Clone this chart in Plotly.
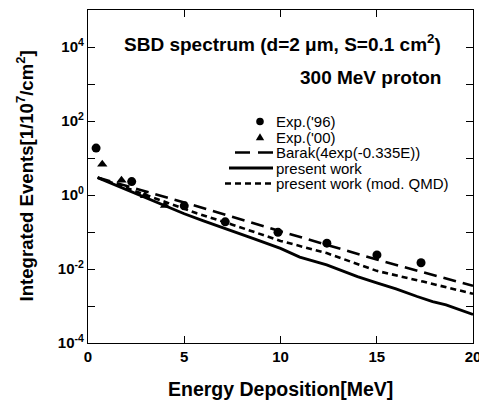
import plotly.graph_objects as go

# ---------------- data ----------------
exp96_E = [0.42, 2.27, 5.0, 7.13, 9.87, 12.41, 15.01, 17.3]
exp96_N = [18.5, 2.3, 0.51, 0.188, 0.098, 0.050, 0.024, 0.0148]

exp00_E = [0.74, 1.74, 2.96, 4.0]
exp00_N = [6.8, 2.5, 0.96, 0.52]

barak_E = [0.5, 5.0, 10.0, 15.0, 20.0]
barak_N = [2.95, 0.63, 0.105, 0.018, 0.0035]

present_E = [0.5, 2.0, 3.0, 4.0, 5.0, 6.0, 7.4, 8.6, 10.0, 11.0, 12.4, 14.0,
             15.0, 16.0, 17.1, 17.9, 18.6, 19.5, 20.0]
present_N = [2.95, 1.38, 0.83, 0.51, 0.31, 0.20, 0.112, 0.066, 0.036, 0.021,
             0.0129, 0.0062, 0.0042, 0.0029, 0.0018, 0.00132, 0.00107,
             0.00072, 0.00059]

qmd_E = [0.5, 2.0, 3.5, 5.65, 7.5, 10.0, 12.4, 15.0, 17.4, 20.0]
qmd_N = [2.95, 1.55, 0.79, 0.32, 0.158, 0.0575, 0.0269, 0.0089, 0.00457, 0.00214]

x_tickvals = [0, 5, 10, 15, 20]
x_ticktext = ["0", "5", "10", "15", "20"]
y_exponents = [-4, -3, -2, -1, 0, 1, 2, 3, 4, 5]
y_labelled = [-4, -2, 0, 2, 4]

legend_labels = ["Exp.('96)", "Exp.('00)", "Barak(4exp(-0.335E))",
                 "present work", "present work (mod. QMD)"]

# ---------------- figure ----------------
FONT = "Liberation Sans, Arial, Helvetica, sans-serif"
W, H = 479, 401
ML, MR, MT, MB = 88, 6, 10, 58
PW, PH = W - ML - MR, H - MT - MB


def px(xp):
    return (xp - ML) / PW


def py(yp):
    return (H - MB - yp) / PH


fig = go.Figure()

fig.add_trace(go.Scatter(x=barak_E, y=barak_N, mode="lines",
                         line=dict(color="black", width=2.6, dash="13px,7px"),
                         showlegend=False))
fig.add_trace(go.Scatter(x=qmd_E, y=qmd_N, mode="lines",
                         line=dict(color="black", width=2.6, dash="6px,4px"),
                         showlegend=False))
fig.add_trace(go.Scatter(x=present_E, y=present_N, mode="lines",
                         line=dict(color="black", width=2.8),
                         showlegend=False))
fig.add_trace(go.Scatter(x=exp96_E, y=exp96_N, mode="markers",
                         marker=dict(symbol="circle", size=9, color="black"),
                         showlegend=False))
fig.add_trace(go.Scatter(x=exp00_E, y=exp00_N, mode="markers",
                         marker=dict(symbol="triangle-up", size=9, color="black"),
                         showlegend=False))

y_ticktext = [("10<sup>%d</sup>" % e) if e in y_labelled else "" for e in y_exponents]

fig.update_layout(
    width=W, height=H,
    margin=dict(l=ML, r=MR, t=MT, b=MB),
    paper_bgcolor="white", plot_bgcolor="white",
    showlegend=False,
    font=dict(family=FONT, color="black"),
    xaxis=dict(range=[0, 20], tickvals=x_tickvals, ticktext=x_ticktext,
               ticks="inside", ticklen=7, tickwidth=1.2, tickcolor="black",
               showline=True, linecolor="black", linewidth=1.2, mirror="ticks",
               showgrid=False, zeroline=False, ticklabeloverflow="allow",
               automargin=False,
               tickfont=dict(family=FONT, size=15, weight="bold")),
    yaxis=dict(type="log", range=[-4, 5],
               tickvals=[10.0 ** e for e in y_exponents], ticktext=y_ticktext,
               ticks="inside", ticklen=7, tickwidth=1.2, tickcolor="black",
               showline=True, linecolor="black", linewidth=1.2, mirror="ticks",
               showgrid=False, zeroline=False, ticklabeloverflow="allow",
               automargin=False,
               tickfont=dict(family=FONT, size=15, weight="bold")),
)

ann = []
ann.append(dict(text="Integrated Events[1/10<sup>7</sup>/cm<sup>2</sup>]",
                xref="paper", yref="paper", x=px(25), y=0.5, textangle=-90,
                showarrow=False, xanchor="center", yanchor="middle",
                font=dict(family=FONT, size=18.6, weight="bold")))
ann.append(dict(text="Energy Deposition[MeV]", xref="paper", yref="paper",
                x=0.5, y=py(389), showarrow=False, xanchor="center", yanchor="middle",
                font=dict(family=FONT, size=19.5, weight="bold")))
ann.append(dict(text="SBD spectrum (d=2 \u03bcm, S=0.1 cm<sup>2</sup>)",
                xref="paper", yref="paper", x=px(443), y=py(43), showarrow=False,
                xanchor="right", yanchor="middle",
                font=dict(family=FONT, size=19, weight="bold")))
ann.append(dict(text="300 MeV proton", xref="paper", yref="paper",
                x=px(443), y=py(77), showarrow=False, xanchor="right", yanchor="middle",
                font=dict(family=FONT, size=19, weight="bold")))

row_y = [121.5 + 15.5 * i for i in range(len(legend_labels))]
for lab, yy in zip(legend_labels, row_y):
    ann.append(dict(text=lab, xref="paper", yref="paper", x=px(274), y=py(yy),
                    showarrow=False, xanchor="left", yanchor="middle",
                    font=dict(family=FONT, size=15)))
fig.update_layout(annotations=ann)

shapes = []
# legend symbol: circle
r = 3.8
shapes.append(dict(type="circle", xref="paper", yref="paper",
                   x0=px(260 - r), x1=px(260 + r), y0=py(row_y[0] + r), y1=py(row_y[0] - r),
                   fillcolor="black", line=dict(color="black", width=0)))
# legend symbol: triangle
t = 4.2
cy = row_y[1]
shapes.append(dict(type="path", xref="paper", yref="paper",
                   path="M %f,%f L %f,%f L %f,%f Z" % (
                       px(260 - t), py(cy + t * 0.75), px(260 + t), py(cy + t * 0.75),
                       px(260), py(cy - t * 0.9)),
                   fillcolor="black", line=dict(color="black", width=0)))
# legend line samples
shapes.append(dict(type="line", xref="paper", yref="paper",
                   x0=px(235), x1=px(273), y0=py(row_y[2]), y1=py(row_y[2]),
                   line=dict(color="black", width=2.6, dash="15px,8px")))
shapes.append(dict(type="line", xref="paper", yref="paper",
                   x0=px(229), x1=px(273), y0=py(row_y[3]), y1=py(row_y[3]),
                   line=dict(color="black", width=2.8)))
shapes.append(dict(type="line", xref="paper", yref="paper",
                   x0=px(225), x1=px(273), y0=py(row_y[4]), y1=py(row_y[4]),
                   line=dict(color="black", width=2.6, dash="6px,4px")))
fig.update_layout(shapes=shapes)

fig.write_html("out.html", config={"displayModeBar": False})

# remove the browser's default page margin so the figure sits at (0, 0)
with open("out.html", "r", encoding="utf-8") as f:
    page = f.read()
page = page.replace("<head>", "<head><style>html,body{margin:0;padding:0;overflow:hidden;}</style>", 1)
with open("out.html", "w", encoding="utf-8") as f:
    f.write(page)
